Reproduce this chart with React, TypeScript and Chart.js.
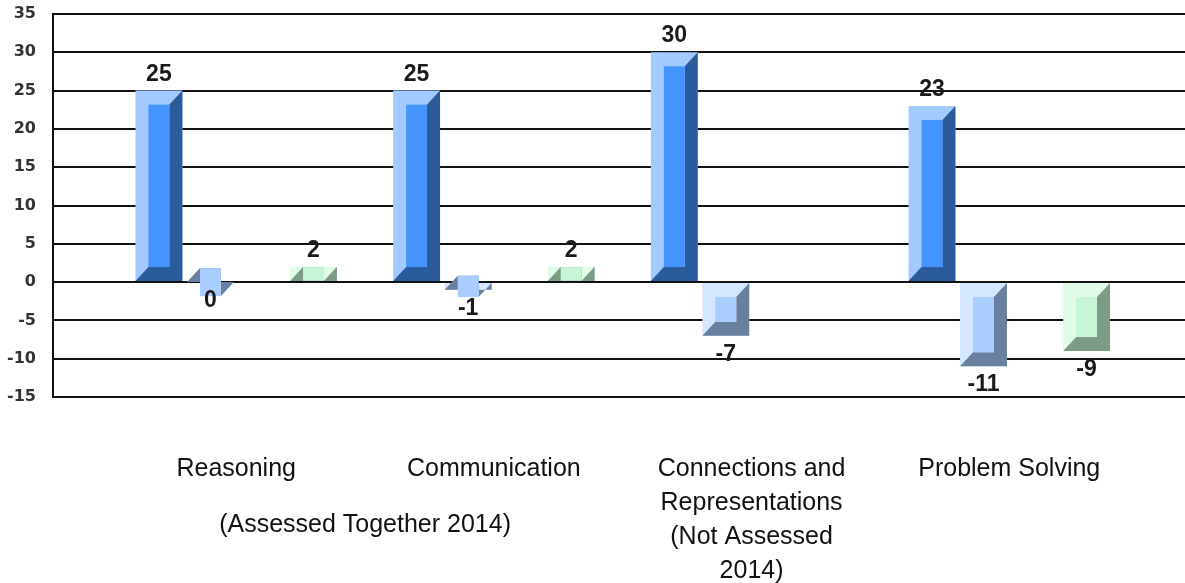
import React, { useEffect, useRef } from "react";
import { Chart, registerables } from "chart.js";

Chart.register(...registerables);

// ---- data ----
const categoryLabels: string[][] = [
  ["Reasoning"],
  ["Communication"],
  ["Connections and", "Representations", "(Not Assessed", "2014)"],
  ["Problem Solving"],
];
const groupNote = "(Assessed Together 2014)";
const seriesA: (number | null)[] = [25, 25, 30, 23];
const seriesB: (number | null)[] = [0, -1, -7, -11];
const seriesC: (number | null)[] = [null, null, null, null];
const seriesD: (number | null)[] = [2, 2, null, -9];
const yTickMin = -15;
const yTickMax = 35;
const yTickStep = 5;

// ---- styles ----
const palettes = [
  { light: "#a3caff", face: "#4594fe", shade: "#2a5b9b" },
  { light: "#d5e7ff", face: "#a9cdff", shade: "#687f9f" },
  { light: "#d5e7ff", face: "#a9cdff", shade: "#687f9f" },
  { light: "#e1fbe9", face: "#c7f6d7", shade: "#7e9b87" },
];
const BEVEL_X = 13;
const BEVEL_Y = 14;

const toPoints = (arr: (number | null)[]) => arr.map((v, i) => ({ x: i, y: v }));

const bevelPlugin = {
  id: "bevel",
  afterDatasetDraw(chart: any, args: any) {
    const meta = args.meta;
    const ds = chart.data.datasets[args.index];
    const pal = palettes[args.index];
    const ctx = chart.ctx as CanvasRenderingContext2D;
    ctx.save();
    meta.data.forEach((el: any, i: number) => {
      const v = ds.data[i]?.y;
      if (v === null || v === undefined) return;
      const { x, y, base, width } = el.getProps(["x", "y", "base", "width"], true);
      const L = x - width / 2;
      const R = x + width / 2;
      const T = Math.min(y, base);
      const B = Math.max(y, base);
      ctx.fillStyle = pal.shade;
      ctx.beginPath();
      ctx.moveTo(R, T);
      ctx.lineTo(R, B);
      ctx.lineTo(L, B);
      ctx.lineTo(L + BEVEL_X, B - BEVEL_Y);
      ctx.lineTo(R - BEVEL_X, B - BEVEL_Y);
      ctx.lineTo(R - BEVEL_X, T + BEVEL_Y);
      ctx.closePath();
      ctx.fill();
      ctx.fillStyle = pal.face;
      const y1 = T + BEVEL_Y;
      const y2 = B - BEVEL_Y;
      ctx.fillRect(L + BEVEL_X, Math.min(y1, y2), R - L - 2 * BEVEL_X, Math.abs(y2 - y1));
    });
    ctx.restore();
  },
};

const labelPlugin = {
  id: "valueLabels",
  afterDatasetsDraw(chart: any) {
    const ctx = chart.ctx as CanvasRenderingContext2D;
    ctx.save();
    ctx.font = "bold 23px 'Liberation Sans', Arial, sans-serif";
    ctx.fillStyle = "#1a1a1a";
    ctx.textAlign = "center";
    ctx.textBaseline = "alphabetic";
    chart.data.datasets.forEach((ds: any, di: number) => {
      const meta = chart.getDatasetMeta(di);
      meta.data.forEach((el: any, i: number) => {
        const v = ds.data[i]?.y;
        if (v === null || v === undefined) return;
        const { x, y, base } = el.getProps(["x", "y", "base"], true);
        const T = Math.min(y, base);
        const B = Math.max(y, base);
        if (v > 0) ctx.fillText(String(v), x, T - 10);
        else ctx.fillText(String(v), x, B + 25);
      });
    });
    // group note under the first two categories
    const xs = chart.scales.x;
    const cx = (xs.getPixelForValue(0) + xs.getPixelForValue(1)) / 2;
    ctx.font = "25px 'Liberation Sans', Arial, sans-serif";
    ctx.fillStyle = "#111";
    ctx.textBaseline = "middle";
    ctx.fillText(groupNote, cx, xs.top + 128);
    ctx.restore();
  },
};

export default function App() {
  const canvasRef = useRef<HTMLCanvasElement | null>(null);

  useEffect(() => {
    if (!canvasRef.current) return;
    const series = [seriesA, seriesB, seriesC, seriesD];
    const chart = new Chart(canvasRef.current, {
      type: "bar",
      data: {
        datasets: series.map((s, i) => ({
          label: `Series ${i + 1}`,
          data: toPoints(s) as any,
          backgroundColor: palettes[i].light,
          borderWidth: 0,
          categoryPercentage: 0.8,
          barPercentage: 0.91,
        })),
      },
      options: {
        animation: false,
        responsive: true,
        maintainAspectRatio: false,
        layout: { autoPadding: false, padding: { top: 14, left: 7, right: 0, bottom: 0 } },
        plugins: {
          legend: { display: false },
          tooltip: { enabled: false },
          title: { display: false },
        },
        scales: {
          x: {
            type: "linear",
            min: -0.711,
            max: 3.682,
            offset: false,
            grid: { display: false, drawTicks: false, tickLength: 0 },
            border: { display: false },
            afterBuildTicks: (scale: any) => {
              scale.ticks = categoryLabels.map((_, i) => ({ value: i }));
            },
            afterFit: (scale: any) => {
              scale.height = 191;
              scale.paddingLeft = 0;
              scale.paddingRight = 0;
            },
            ticks: {
              autoSkip: false,
              maxRotation: 0,
              minRotation: 0,
              padding: 55,
              color: "#111",
              font: { family: "'Liberation Sans', Arial, sans-serif", size: 25, lineHeight: 34 / 25 },
              callback: (v: any) => categoryLabels[v as number] ?? "",
            },
          },
          y: {
            min: yTickMin,
            max: yTickMax,
            afterFit: (scale: any) => {
              scale.width = 46;
              scale.paddingTop = 0;
              scale.paddingBottom = 0;
            },
            ticks: {
              stepSize: yTickStep,
              padding: 17,
              color: "#333",
              font: { family: "'DejaVu Sans', sans-serif", size: 16, weight: "bold" },
            },
            grid: { color: "#111", lineWidth: 2, drawTicks: false, tickLength: 0 },
            border: { display: true, color: "#111", width: 2 },
          },
        },
      },
      plugins: [bevelPlugin, labelPlugin],
    });
    return () => chart.destroy();
  }, []);

  return (
    <div style={{ position: "fixed", left: 0, top: 0, width: 1185, height: 583, overflow: "hidden", background: "#fff" }}>
      <div style={{ position: "relative", width: 1185, height: 588 }}>
        <canvas ref={canvasRef} />
      </div>
    </div>
  );
}
